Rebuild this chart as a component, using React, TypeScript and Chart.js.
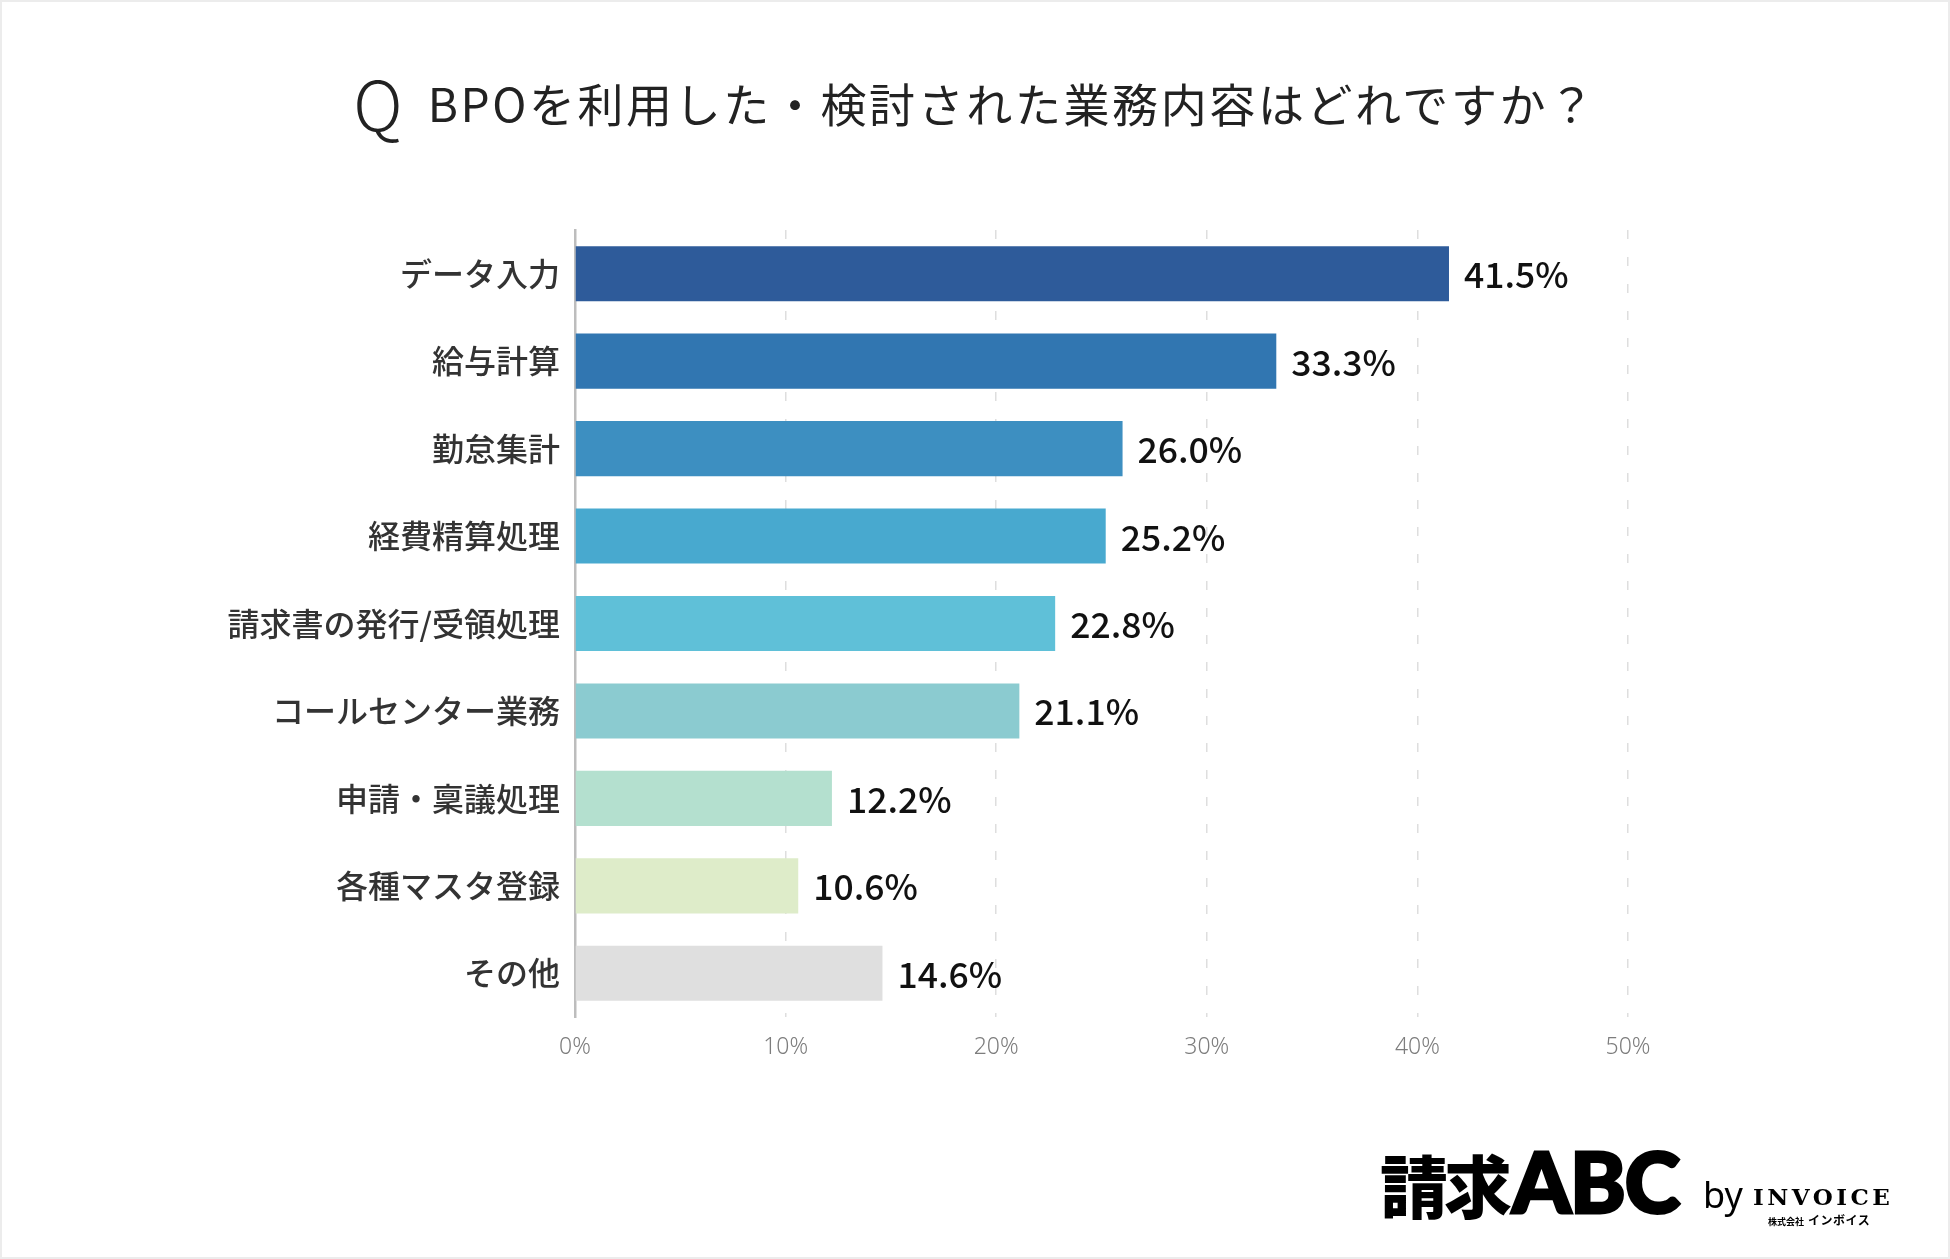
import React, { useEffect, useRef } from "react";
import { Chart, registerables } from "chart.js";

Chart.register(...registerables);

const TITLE = "BPOを利用した・検討された業務内容はどれですか？";

const categories = [
  "データ入力",
  "給与計算",
  "勤怠集計",
  "経費精算処理",
  "請求書の発行/受領処理",
  "コールセンター業務",
  "申請・稟議処理",
  "各種マスタ登録",
  "その他",
];

const values = [41.5, 33.3, 26.0, 25.2, 22.8, 21.1, 12.2, 10.6, 14.6];

const barColors = [
  "#2e5b9a",
  "#3176b1",
  "#3d8fc1",
  "#48a9cf",
  "#5fc0d8",
  "#8bcbd0",
  "#b4e0cf",
  "#deecc9",
  "#dfdfdf",
];

const xTicks = [0, 10, 20, 30, 40, 50];

const JP = "'Noto Sans CJK JP', 'Noto Sans', sans-serif";

// Writes each bar's percentage just past the end of the bar.
const valueLabels = {
  id: "valueLabels",
  afterDatasetsDraw(chart: any) {
    const { ctx } = chart;
    const meta = chart.getDatasetMeta(0);
    ctx.save();
    ctx.font = `500 35.5px ${JP}`;
    ctx.fillStyle = "#111111";
    ctx.textAlign = "left";
    ctx.textBaseline = "middle";
    meta.data.forEach((bar: any, i: number) => {
      const v = chart.data.datasets[0].data[i] as number;
      ctx.fillText(`${v.toFixed(1)}%`, bar.x + 15, bar.y + 1);
    });
    ctx.restore();
  },
};

const abs = (left: number, top: number): React.CSSProperties => ({
  position: "absolute",
  left,
  top,
  whiteSpace: "nowrap",
  color: "#000000",
});

export default function App() {
  const canvasRef = useRef<HTMLCanvasElement | null>(null);

  useEffect(() => {
    if (!canvasRef.current) return;
    const chart = new Chart(canvasRef.current, {
      type: "bar",
      data: {
        labels: categories,
        datasets: [
          {
            data: values,
            backgroundColor: barColors,
            borderWidth: 0,
            categoryPercentage: 1,
            barPercentage: 0.63,
          },
        ],
      },
      options: {
        indexAxis: "y",
        animation: false,
        responsive: false,
        maintainAspectRatio: false,
        layout: { padding: { left: 0, right: 322, top: 230, bottom: 182 } },
        plugins: {
          legend: { display: false },
          title: { display: false },
          tooltip: { enabled: false },
        },
        scales: {
          x: {
            type: "linear",
            min: xTicks[0],
            max: xTicks[xTicks.length - 1],
            afterBuildTicks: (scale: any) => {
              scale.ticks = xTicks.map((v) => ({ value: v }));
            },
            afterFit: (scale: any) => {
              scale.height = 60;
            },
            ticks: {
              callback: (v: any) => `${v}%`,
              color: "#7d7d7d",
              font: { family: "'Noto Sans', sans-serif", size: 23, weight: "300" },
              padding: 17,
            },
            grid: {
              color: "#dedede",
              lineWidth: 1.5,
              drawTicks: false,
            },
            border: { display: false, dash: [9, 18] },
          },
          y: {
            afterFit: (scale: any) => {
              scale.width = 575;
            },
            ticks: {
              color: "#333333",
              font: { family: JP, size: 32, weight: "500" },
              padding: 15,
            },
            grid: { display: false, drawTicks: false },
            border: { display: true, color: "#bdbdbd", width: 2.5 },
          },
        },
      },
      plugins: [valueLabels],
    });
    return () => chart.destroy();
  }, []);

  return (
    <div
      style={{
        position: "fixed",
        left: 0,
        top: 0,
        width: 1950,
        height: 1259,
        background: "#ffffff",
        boxSizing: "border-box",
        border: "2px solid #ececec",
        overflow: "hidden",
      }}
    >
      <canvas
        ref={canvasRef}
        width={1950}
        height={1259}
        style={{ position: "absolute", left: -2, top: -2, width: 1950, height: 1259 }}
      />
      <div
        style={{
          position: "absolute",
          left: 0,
          top: 62,
          width: 1946,
          display: "flex",
          justifyContent: "center",
          alignItems: "center",
          fontFamily: JP,
          color: "#222222",
          whiteSpace: "nowrap",
        }}
      >
        <span style={{ fontSize: 68, fontWeight: 200, lineHeight: "76px", marginRight: 25, marginTop: 0 }}>
          Q
        </span>
        <span style={{ fontSize: 46, fontWeight: 400, lineHeight: "76px", letterSpacing: 2.6 }}>{TITLE}</span>
      </div>

      {/* service logo, bottom right */}
      <span
        style={{
          ...abs(1378, 1148),
          fontFamily: JP,
          fontSize: 68,
          fontWeight: 900,
          lineHeight: "68px",
          letterSpacing: -4,
        }}
      >
        請求
      </span>
      <span
        style={{
          ...abs(1510, 1137),
          fontFamily: "Lato, 'Noto Sans', sans-serif",
          fontSize: 84,
          fontWeight: 900,
          lineHeight: "84px",
          letterSpacing: -1,
          WebkitTextStroke: "3px #000000",
        }}
      >
        ABC
      </span>
      <span
        style={{
          ...abs(1701, 1175),
          fontFamily: "'Noto Sans', sans-serif",
          fontSize: 36,
          fontWeight: 400,
          lineHeight: "36px",
        }}
      >
        by
      </span>
      <span
        style={{
          ...abs(1751, 1183),
          fontFamily: "'DejaVu Serif', serif",
          fontSize: 23,
          fontWeight: 700,
          lineHeight: "23px",
          letterSpacing: 3.5,
        }}
      >
        INVOICE
      </span>
      <span style={{ ...abs(1766, 1210), fontFamily: JP, fontWeight: 700, lineHeight: "13px" }}>
        <span style={{ fontSize: 9 }}>株式会社</span>
        <span style={{ fontSize: 12, marginLeft: 4, letterSpacing: 0.5 }}>インボイス</span>
      </span>
    </div>
  );
}
